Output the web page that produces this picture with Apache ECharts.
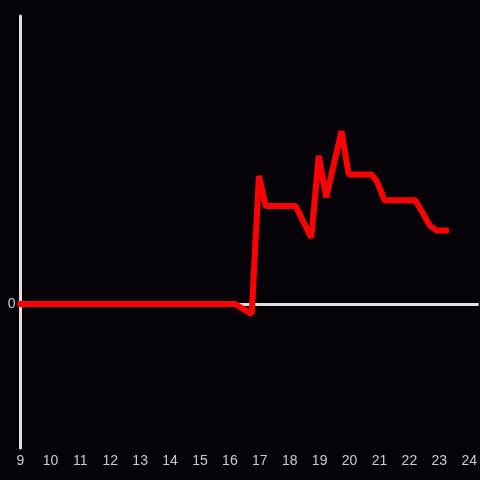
<!DOCTYPE html>
<html>
<head>
<meta charset="utf-8">
<script src="https://cdn.jsdelivr.net/npm/echarts@6/dist/echarts.min.js"></script>
<style>
  html, body { margin: 0; padding: 0; background: #050307; }
  #chart { width: 480px; height: 480px; }
</style>
</head>
<body>
<div id="chart"></div>
<script>
// hours of the day and the series value at each point
const hours = [9, 16.17, 16.73, 16.97, 17.2, 18.2, 18.72, 18.97, 19.22, 19.73, 19.97, 20.73, 20.92, 21.17, 22.2, 22.7, 22.92, 23.22];
const values = [0, 0, -7, 89, 68, 68, 46, 103, 74, 120, 90, 90, 85, 72, 72, 54, 51, 51];
const xTicks = [9, 10, 11, 12, 13, 14, 15, 16, 17, 18, 19, 20, 21, 22, 23, 24];

const chart = echarts.init(document.getElementById("chart"), undefined, {
  renderer: "canvas",
});

const axisColor = "#e0e0e0";
const labelColor = "#cccccc";

chart.setOption({
  backgroundColor: "#050307",
  animation: false,
  grid: { left: 20.5, right: 0, top: 16, bottom: 32 },
  xAxis: {
    type: "value",
    min: 9,
    max: 9 + 459.5 / 30,
    interval: 1,
    axisLine: { show: false },
    axisTick: { show: false },
    splitLine: { show: false },
    axisLabel: {
      color: labelColor,
      fontSize: 14,
      fontFamily: "Liberation Sans, Arial, sans-serif",
      margin: 6,
      showMaxLabel: false,
      formatter: (v) => (xTicks.includes(v) ? String(v) : ""),
    },
  },
  yAxis: {
    type: "value",
    min: -100,
    max: 200,
    interval: 100,
    axisLine: { show: true, onZero: false, lineStyle: { color: axisColor, width: 3 } },
    axisTick: { show: false },
    splitLine: { show: false },
    axisLabel: {
      color: labelColor,
      fontSize: 14,
      fontFamily: "Liberation Sans, Arial, sans-serif",
      margin: 5,
      formatter: (v) => (v === 0 ? "0" : ""),
    },
  },
  series: [
    {
      type: "line",
      data: hours.map((h, i) => [h, values[i]]),
      showSymbol: false,
      clip: false,
      lineStyle: { color: "#ff0000", width: 6, cap: "square" },
      z: 3,
      markLine: {
        silent: true,
        symbol: "none",
        label: { show: false },
        lineStyle: { color: axisColor, width: 3, type: "solid" },
        data: [{ yAxis: 0 }],
        z: 1,
      },
    },
  ],
});
</script>
</body>
</html>
